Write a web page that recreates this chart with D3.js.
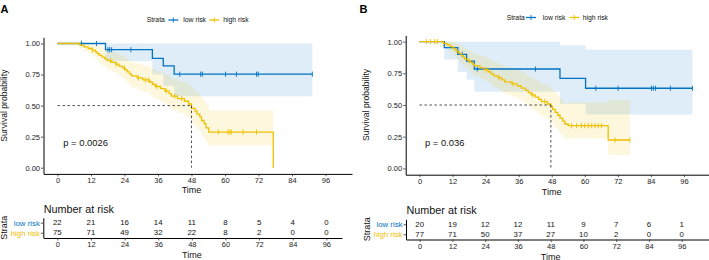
<!DOCTYPE html>
<html><head><meta charset="utf-8">
<script src="https://cdn.jsdelivr.net/npm/d3@7"></script>
<style>body{margin:0;background:#fff}svg{display:block}</style>
</head><body>
<svg id="c" width="709" height="260"></svg>
<script>
// ---------------- DATA ----------------
const strata = ["low risk", "high risk"];
const colors = ["#0073C2", "#EFC000"];
const xTicks = [0, 12, 24, 36, 48, 60, 72, 84, 96];
const yTicks = [0, 0.25, 0.5, 0.75, 1];
const riskTimes = [0, 12, 24, 36, 48, 60, 72, 84, 96];

// Panel A - low risk
const aLowTime  = [0, 17.2, 34.0, 37.9, 41.8];
const aLowSurv  = [1, 0.95, 0.88, 0.82, 0.753];
const aLowLower = [1, 0.86, 0.75, 0.66, 0.575];
const aLowUpper = [1, 1, 1, 1, 1];
const aLowEnd = 91.3;
const aLowCensor = [8.6, 14.0, 18.1, 18.7, 19.4, 26.3, 43.8, 51.3, 51.9, 60.2, 64.1, 71.3, 71.9, 91.3];

// Panel A - high risk
const aHighTime = [0, 8.0, 9.5, 11.0, 12.5, 13.5, 14.3, 15.0, 16.0, 17.0, 17.8, 19.5, 21.0, 22.0, 23.2, 24.2, 25.0, 25.8, 26.5, 28.5, 30.5, 33.0, 34.0, 35.0, 37.0, 38.5, 40.0, 40.8, 43.0, 45.5, 47.0, 48.0, 49.3, 50.0, 51.0, 51.6, 52.5, 53.2, 54.2, 77.3];
const aHighSurv = [1, .987, .973, .960, .946, .932, .918, .904, .890, .876, .862, .848, .833, .818, .803, .787, .771, .755, .739, .723, .707, .690, .672, .654, .636, .617, .597, .577, .556, .535, .513, .478, .455, .432, .409, .380, .355, .320, .287, 0];
const aHighLower = [1, .961, .937, .917, .897, .878, .859, .841, .823, .806, .789, .772, .754, .737, .719, .700, .681, .663, .645, .627, .609, .589, .569, .549, .529, .508, .486, .465, .442, .419, .396, .358, .334, .310, .287, .258, .233, .200, .178, null];
const aHighUpper = [1, 1, 1, 1, .998, .99, .98, .972, .962, .952, .942, .932, .921, .909, .897, .885, .872, .860, .847, .834, .821, .808, .794, .779, .764, .749, .733, .716, .699, .682, .664, .638, .620, .601, .582, .559, .540, .512, .462, null];
const aHighEnd = 77.3;
const aHighCensor = [12.5, 19.0, 21.0, 24.0, 29.0, 31.5, 32.5, 35.5, 39.0, 42.0, 44.5, 57.6, 61.1, 61.7, 62.3, 66.5, 71.3];

const aMedian = 48.0;
const aPText = "p = 0.0026";
const aRiskLow  = [22, 21, 16, 14, 11, 8, 5, 4, 0];
const aRiskHigh = [75, 71, 49, 32, 22, 8, 2, 0, 0];

// Panel B - low risk
const bLowTime  = [0, 9.0, 13.9, 17.1, 19.9, 51.0, 60.3];
const bLowSurv  = [1, 0.953, 0.90, 0.847, 0.784, 0.71, 0.632];
const bLowLower = [1, 0.86, 0.76, 0.70, 0.605, 0.51, 0.426];
const bLowUpper = [1, 1, 1, 1, 1, 0.97, 0.935];
const bLowEnd = 99.1;
const bLowCensor = [15.5, 21.0, 42.1, 64.0, 72.1, 84.2, 84.9, 85.7, 91.1, 99.1];

// Panel B - high risk
const bHighTime = [0, 8.6, 10.0, 11.2, 12.2, 12.9, 13.6, 14.5, 15.3, 15.8, 16.4, 17.5, 18.5, 19.2, 20.0, 22.0, 23.5, 25.0, 26.0, 27.0, 28.5, 30.0, 31.0, 33.5, 35.5, 37.0, 38.5, 39.5, 40.5, 42.0, 43.3, 44.3, 46.5, 47.7, 48.3, 49.3, 50.2, 51.0, 52.0, 52.8, 54.0, 68.5];
const bHighSurv = [1, .987, .974, .961, .947, .934, .920, .906, .892, .878, .864, .850, .836, .822, .808, .793, .778, .762, .746, .730, .714, .698, .682, .666, .650, .633, .616, .598, .580, .562, .544, .526, .508, .488, .465, .442, .419, .396, .373, .350, .337, .224];
const bHighLower = [1, .962, .938, .918, .898, .880, .861, .843, .826, .809, .792, .775, .758, .742, .726, .709, .691, .673, .655, .637, .619, .601, .583, .565, .547, .528, .509, .489, .469, .449, .429, .409, .389, .367, .343, .319, .296, .273, .250, .228, .235, .105];
const bHighUpper = [1, 1, 1, 1, .998, .99, .982, .972, .963, .953, .943, .932, .921, .910, .899, .888, .876, .863, .850, .837, .824, .811, .797, .784, .771, .757, .743, .728, .713, .697, .681, .665, .649, .631, .611, .591, .571, .551, .531, .512, .52, .54];
const bHighEnd = 76.4;
const bHighCensor = [2.5, 4.0, 5.5, 6.5, 18.0, 24.5, 29.0, 34.0, 41.0, 45.5, 55.2, 57.0, 58.8, 60.0, 61.3, 62.5, 63.7, 64.9, 66.1, 71.0, 76.4];

const bMedian = 47.7;
const bPText = "p = 0.036";
const bRiskLow  = [20, 19, 12, 12, 11, 9, 7, 6, 1];
const bRiskHigh = [77, 71, 50, 37, 27, 10, 2, 0, 0];

// ---------------- LAYOUT ----------------
const FONT = "'Liberation Sans', Arial, Helvetica, sans-serif";
const panels = [
  {
    label: "A", lx: 0.5, ly: 13.3,
    plot: {x0: 43.5, x1: 352, y0: 173.9, y1: 37.3, xdom: [-5, 105.5]},
    ytitleX: 7, ytitleY: 105.6, xtitleY: 193,
    legend: {y: 20, strataX: 146.7, keyX: [168.3, 209.3], textX: [183.3, 223.3]},
    pX: 63.3, pY: 146, pText: aPText, median: aMedian,
    groups: [
      {time: aLowTime, surv: aLowSurv, lower: aLowLower, upper: aLowUpper, end: aLowEnd, censor: aLowCensor},
      {time: aHighTime, surv: aHighSurv, lower: aHighLower, upper: aHighUpper, end: aHighEnd, censor: aHighCensor}
    ],
    table: {x0: 43.3, x1: 342, xdom: [-5, 101.6], rows: [222.7, 232.7], axisY: 238, titleY: 212.5, timeY: 258, strataX: 7, risk: [aRiskLow, aRiskHigh]}
  },
  {
    label: "B", lx: 359.5, ly: 13.3,
    plot: {x0: 405.7, x1: 709, xdom: [-5, 105.1], y0: 174.7, y1: 35.3},
    ytitleX: 368.5, ytitleY: 105, xtitleY: 194.5,
    legend: {y: 17.5, strataX: 506.7, keyX: [526, 569.3], textX: [542.7, 582.7]},
    pX: 425, pY: 146, pText: bPText, median: bMedian,
    groups: [
      {time: bLowTime, surv: bLowSurv, lower: bLowLower, upper: bLowUpper, end: bLowEnd, censor: bLowCensor},
      {time: bHighTime, surv: bHighSurv, lower: bHighLower, upper: bHighUpper, end: bHighEnd, censor: bHighCensor}
    ],
    table: {x0: 406, x1: 709, xdom: [-5, 106], rows: [224.3, 234.3], axisY: 239.5, titleY: 214, timeY: 259.5, strataX: 369.5, risk: [bRiskLow, bRiskHigh]}
  }
];

const svg = d3.select("#c");
svg.append("rect").attr("width", 709).attr("height", 260).attr("fill", "#fff");

function stepAt(times, surv, t) {
  let s = surv[0];
  for (let i = 0; i < times.length; i++) if (times[i] <= t) s = surv[i];
  return s;
}

function styleAxis(g, size) {
  g.selectAll("path.domain").attr("stroke", "#000").attr("stroke-width", 1);
  g.selectAll(".tick line").attr("stroke", "#333").attr("stroke-width", 0.8);
  g.selectAll(".tick text").attr("fill", "#222").style("font-family", FONT).style("font-size", size + "px");
}

panels.forEach(P => {
  const g = svg.append("g");
  const x = d3.scaleLinear().domain(P.plot.xdom).range([P.plot.x0, P.plot.x1]);
  const y = d3.scaleLinear().domain([-0.05, 1.05]).range([P.plot.y0, P.plot.y1]);

  // confidence bands
  P.groups.forEach((G, gi) => {
    const pts = [];
    for (let i = 0; i < G.time.length; i++) {
      if (G.lower[i] == null) { const last = pts[pts.length - 1]; pts.push({t: G.time[i], lo: last.lo, hi: last.hi}); break; }
      pts.push({t: G.time[i], lo: G.lower[i], hi: G.upper[i]});
      if (i === G.time.length - 1) pts.push({t: G.end, lo: G.lower[i], hi: G.upper[i]});
    }
    const area = d3.area().curve(d3.curveStepAfter)
      .x(d => x(d.t)).y0(d => y(d.lo)).y1(d => y(d.hi));
    g.append("path").attr("d", area(pts)).attr("fill", colors[gi]).attr("fill-opacity", 0.13);
  });

  // curves
  P.groups.forEach((G, gi) => {
    const pts = G.time.map((t, i) => ({t, s: G.surv[i]}));
    if (G.end > G.time[G.time.length - 1]) pts.push({t: G.end, s: G.surv[G.surv.length - 1]});
    const line = d3.line().curve(d3.curveStepAfter).x(d => x(d.t)).y(d => y(d.s));
    g.append("path").attr("d", line(pts)).attr("fill", "none")
      .attr("stroke", colors[gi]).attr("stroke-width", 1.3);
    g.selectAll(null).data(G.censor).enter().append("line")
      .attr("x1", d => x(d)).attr("x2", d => x(d))
      .attr("y1", d => y(stepAt(G.time, G.surv, d)) - 2.6)
      .attr("y2", d => y(stepAt(G.time, G.surv, d)) + 2.6)
      .attr("stroke", colors[gi]).attr("stroke-width", 0.9);
  });

  // median lines
  g.append("line").attr("x1", x(0)).attr("x2", x(P.median)).attr("y1", y(0.5)).attr("y2", y(0.5))
    .attr("stroke", "#222").attr("stroke-width", 0.8).attr("stroke-dasharray", "2.5,2.5");
  g.append("line").attr("x1", x(P.median)).attr("x2", x(P.median)).attr("y1", y(0.5)).attr("y2", y(0))
    .attr("stroke", "#222").attr("stroke-width", 0.8).attr("stroke-dasharray", "2.5,2.5");

  // axes
  const ax = g.append("g").attr("transform", `translate(0,${P.plot.y0})`)
    .call(d3.axisBottom(x).tickValues(xTicks).tickSize(2.5).tickSizeOuter(0).tickPadding(1.5));
  styleAxis(ax, 7.5);
  const ay = g.append("g").attr("transform", `translate(${P.plot.x0},0)`)
    .call(d3.axisLeft(y).tickValues(yTicks).tickFormat(d3.format(".2f")).tickSize(2.5).tickSizeOuter(0).tickPadding(1));
  styleAxis(ay, 7.5);

  // titles
  g.append("text").attr("x", (x(0) + x(96)) / 2 + 0).attr("y", P.xtitleY).attr("text-anchor", "middle")
    .style("font-family", FONT).style("font-size", "9px").attr("fill", "#111").text("Time");
  g.append("text").attr("transform", `translate(${P.ytitleX},${P.ytitleY}) rotate(-90)`).attr("text-anchor", "middle")
    .style("font-family", FONT).style("font-size", "8.6px").attr("fill", "#111").text("Survival probability");
  g.append("text").attr("x", P.pX).attr("y", P.pY)
    .style("font-family", FONT).style("font-size", "9.4px").attr("fill", "#111").text(P.pText);
  g.append("text").attr("x", P.lx).attr("y", P.ly)
    .style("font-family", FONT).style("font-size", "11px").style("font-weight", "bold").attr("fill", "#000").text(P.label);

  // legend
  const L = P.legend;
  g.append("text").attr("x", L.strataX).attr("y", L.y).attr("dy", "0.35em")
    .style("font-family", FONT).style("font-size", "6.8px").attr("fill", "#111").text("Strata");
  strata.forEach((s, i) => {
    g.append("line").attr("x1", L.keyX[i]).attr("x2", L.keyX[i] + 10).attr("y1", L.y).attr("y2", L.y)
      .attr("stroke", colors[i]).attr("stroke-width", 1.3);
    g.append("line").attr("x1", L.keyX[i] + 5).attr("x2", L.keyX[i] + 5).attr("y1", L.y - 2.5).attr("y2", L.y + 2.5)
      .attr("stroke", colors[i]).attr("stroke-width", 0.9);
    g.append("text").attr("x", L.textX[i]).attr("y", L.y).attr("dy", "0.35em")
      .style("font-family", FONT).style("font-size", "6.8px").attr("fill", "#111").text(s);
  });

  // risk table
  const T = P.table;
  const xt = d3.scaleLinear().domain(T.xdom).range([T.x0, T.x1]);
  const step = T.rows[1] - T.rows[0];
  const yt = d3.scalePoint().domain(strata).range([T.rows[0] - step / 2, T.rows[1] + step / 2]).padding(0.5);
  g.append("text").attr("x", T.x0 + 0.5).attr("y", T.titleY)
    .style("font-family", FONT).style("font-size", "10.8px").attr("fill", "#111").text("Number at risk");
  strata.forEach((s, i) => {
    g.selectAll(null).data(riskTimes).enter().append("text")
      .attr("x", d => xt(d)).attr("y", yt(s)).attr("dy", "0.35em").attr("text-anchor", "middle")
      .style("font-family", FONT).style("font-size", "7.8px").attr("fill", "#111")
      .text((d, j) => T.risk[i][j]);
  });
  const tx = g.append("g").attr("transform", `translate(0,${T.axisY})`)
    .call(d3.axisBottom(xt).tickValues(xTicks).tickSize(2.5).tickSizeOuter(0).tickPadding(1.2));
  styleAxis(tx, 7.5);
  const ty = g.append("g").attr("transform", `translate(${T.x0},0)`)
    .call(d3.axisLeft(yt).tickSize(2.5).tickSizeOuter(0).tickPadding(1));
  styleAxis(ty, 7.8);
  ty.selectAll(".tick text").attr("fill", (d, i) => colors[strata.indexOf(d)]);
  g.append("text").attr("x", (xt(0) + xt(96)) / 2).attr("y", T.timeY).attr("text-anchor", "middle")
    .style("font-family", FONT).style("font-size", "9px").attr("fill", "#111").text("Time");
  g.append("text").attr("transform", `translate(${T.strataX},${(T.rows[0] + T.rows[1]) / 2}) rotate(-90)`).attr("text-anchor", "middle")
    .style("font-family", FONT).style("font-size", "9px").attr("fill", "#111").text("Strata");
});
</script>
</body></html>
